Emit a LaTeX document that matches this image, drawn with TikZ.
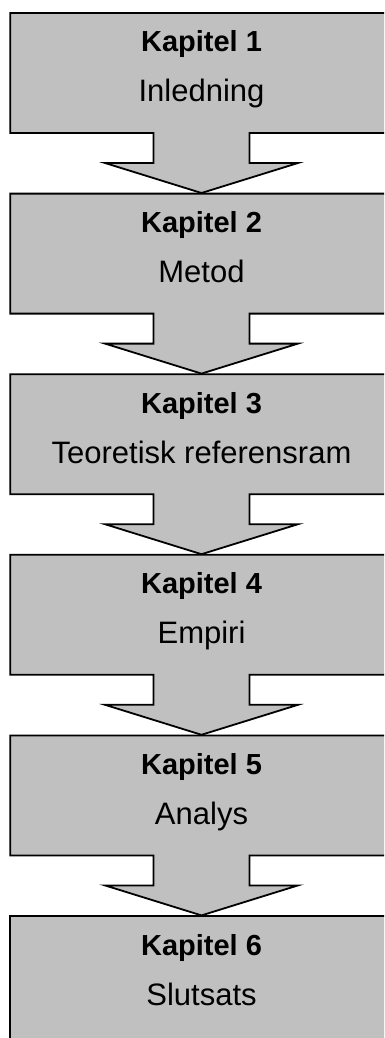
\documentclass[tikz,border=0pt]{standalone}
\usepackage{fontspec}
\setmainfont{Liberation Sans}
\definecolor{boxgray}{HTML}{C0C0C0}
\begin{document}
\begin{tikzpicture}[x=1pt,y=-1pt,
  callout/.style={draw=black,fill=boxgray,line width=1.8pt,line join=miter},
  ktitle/.style={anchor=base,inner sep=0pt,font=\fontsize{29}{34}\selectfont\bfseries},
  ksub/.style={anchor=base,inner sep=0pt,font=\fontsize{31}{37}\selectfont}]
\useasboundingbox (0,0) rectangle (384,1038);
\clip (0,0) rectangle (384,1038);
\foreach \i/\t in {1/Inledning,2/Metod,3/Teoretisk referensram,4/Empiri,5/Analys} {
  \pgfmathsetmacro\yy{13+(\i-1)*180.6}
  \draw[callout] (10.3,\yy) -- (392.7,\yy) -- (392.7,{\yy+120}) -- (249.5,{\yy+120})
    -- (249.5,{\yy+150}) -- (298,{\yy+150}) -- (201.5,{\yy+180}) -- (105,{\yy+150})
    -- (153.5,{\yy+150}) -- (153.5,{\yy+120}) -- (10.3,{\yy+120}) -- cycle;
  \node[ktitle] (k\i) at (201.5,{\yy+39}) {Kapitel \i};
  \node[ksub] (s\i) at (201.5,{\yy+89}) {\t};
}
\draw[callout] (10.3,916) rectangle (392.7,1050);
\node[ktitle] (k6) at (201.5,955) {Kapitel 6};
\node[ksub] (s6) at (201.5,1005) {Slutsats};
\end{tikzpicture}
\end{document}
